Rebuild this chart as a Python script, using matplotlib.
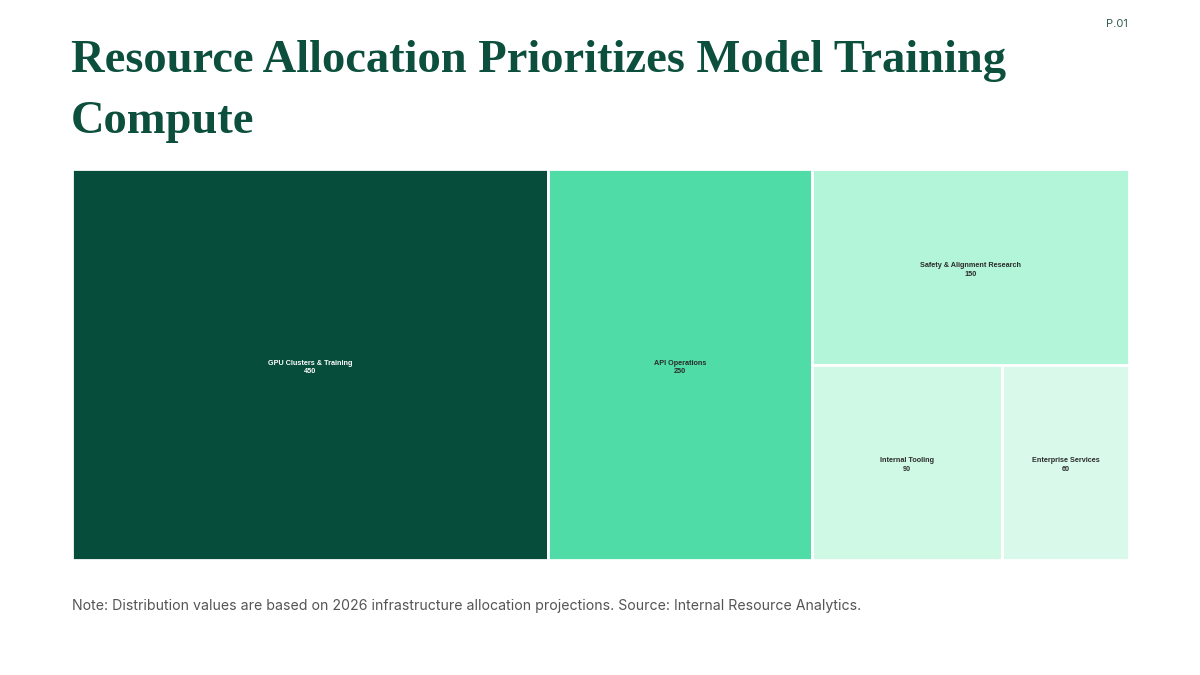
import matplotlib
matplotlib.use("Agg")
import matplotlib.pyplot as plt
from matplotlib.patches import Rectangle

# data
labels = ["GPU Clusters & Training", "API Operations", "Safety & Alignment Research",
          "Internal Tooling", "Enterprise Services"]
values = [450, 250, 150, 90, 60]
colors = ["#064d3b", "#4fdca7", "#b2f5d8", "#cff9e5", "#d9faea"]
text_colors = ["white", "#2b2b2b", "#2b2b2b", "#2b2b2b", "#2b2b2b"]

title_lines = ["Resource Allocation Prioritizes Model Training", "Compute"]
note = ("Note: Distribution values are based on 2026 infrastructure allocation "
        "projections. Source: Internal Resource Analytics.")


def worst(row, side):
    s = sum(row)
    return max(max(side * side * r / (s * s), s * s / (side * side * r)) for r in row)


def layout_row(row, x, y, w, h):
    # place a row along the shorter side of the free rect, return rects and leftover
    s = sum(row)
    rects = []
    if w >= h:
        cw = s / h
        yy = y
        for r in row:
            rects.append((x, yy, cw, r / cw))
            yy += r / cw
        return rects, (x + cw, y, w - cw, h)
    ch = s / w
    xx = x
    for r in row:
        rects.append((xx, y, r / ch, ch))
        xx += r / ch
    return rects, (x, y + ch, w, h - ch)


def squarify(vals, x, y, w, h):
    total = sum(vals)
    areas = [v * w * h / total for v in vals]
    out = []
    rect = (x, y, w, h)
    row = []
    i = 0
    while i < len(areas):
        side = min(rect[2], rect[3])
        a = areas[i]
        if not row or worst(row + [a], side) <= worst(row, side):
            row.append(a)
            i += 1
        else:
            r, rect = layout_row(row, *rect)
            out += r
            row = []
    if row:
        r, rect = layout_row(row, *rect)
        out += r
    return out


W, H = 1200, 675
fig = plt.figure(figsize=(12, 6.75), dpi=100)
fig.patch.set_facecolor("white")

# treemap area in pixels
left, top, right, bottom = 72, 169, 1129, 560
ax = fig.add_axes([left / W, 1 - bottom / H, (right - left) / W, (bottom - top) / H])
aw, ah = right - left, bottom - top
ax.set_xlim(0, aw)
ax.set_ylim(ah, 0)
ax.axis("off")

for (rx, ry, rw, rh), lab, v, c, tc in zip(squarify(values, 0, 0, aw, ah),
                                            labels, values, colors, text_colors):
    ax.add_patch(Rectangle((rx, ry), rw, rh, facecolor=c, edgecolor="white", linewidth=2))
    ax.text(rx + rw / 2, ry + rh / 2 + 3, f"{lab}\n{v}", ha="center", va="center",
            fontsize=5.2, fontweight="bold", color=tc, family="Liberation Sans",
            linespacing=1.35)

for line, base in zip(title_lines, [72, 133]):
    fig.text(71 / W, 1 - base / H, line, ha="left", va="baseline", fontsize=33.5,
             fontweight="bold", color="#0b4f3c", family="Liberation Serif")
fig.text(1128 / W, 1 - 24 / H, "P.01", ha="right", va="center", fontsize=8,
         color="#2f5d4f", family="Inter")
fig.text(72 / W, 1 - 606 / H, note, ha="left", va="center", fontsize=10.2,
         color="#555555", family="Inter")

fig.savefig("out.png", dpi=100, facecolor="white")
